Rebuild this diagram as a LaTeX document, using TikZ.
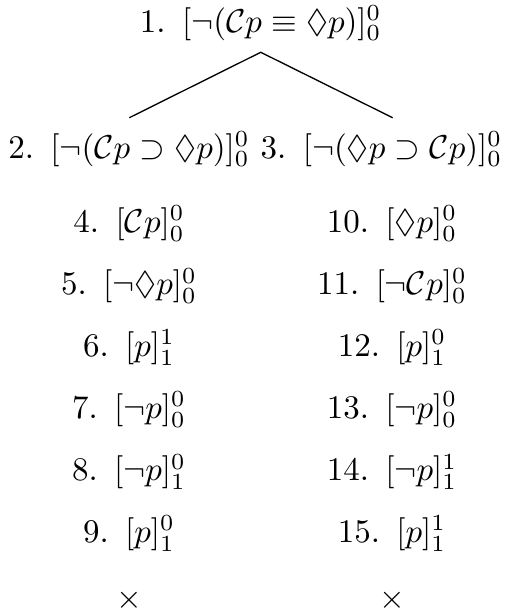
\documentclass[tikz,border=0pt]{standalone}
\usepackage{amssymb}

\begin{document}
\begin{tikzpicture}[
  fml/.style    = {anchor=base, inner sep=0pt},   % a numbered formula, set on its baseline
  branch/.style = {thin},
  closed/.style = {inner sep=0pt},                % the cross that closes a branch
]
  \useasboundingbox (0,0) rectangle (5.421,-6.561);

  % root
  \node[fml] (n1) at (2.777,-0.341) {1.\enspace$[\neg(\mathcal{C}p \equiv \Diamond p)]^0_0$};

  % fork
  \coordinate (fork) at (2.777,-0.557);
  \coordinate (lend) at (1.377,-1.254);
  \coordinate (rend) at (4.182,-1.254);
  \draw[branch] (lend) -- (fork) -- (rend);

  \node[fml] (n2) at (1.374,-1.683) {2.\enspace$[\neg(\mathcal{C}p \supset \Diamond p)]^0_0$};
  \node[fml] (n3) at (4.063,-1.683) {3.\enspace$[\neg(\Diamond p \supset \mathcal{C}p)]^0_0$};

  % left branch
  \node[fml] (n4) at (1.374,-2.481) {4.\enspace$[\mathcal{C}p]^0_0$};
  \node[fml] (n5) at (1.374,-3.142) {5.\enspace$[\neg\Diamond p]^0_0$};
  \node[fml] (n6) at (1.374,-3.802) {6.\enspace$[p]^1_1$};
  \node[fml] (n7) at (1.374,-4.462) {7.\enspace$[\neg p]^0_0$};
  \node[fml] (n8) at (1.374,-5.123) {8.\enspace$[\neg p]^0_1$};
  \node[fml] (n9) at (1.374,-5.783) {9.\enspace$[p]^0_1$};
  \node[closed] (xl) at (1.374,-6.390) {$\times$};

  % right branch
  \node[fml] (n10) at (4.175,-2.481) {10.\enspace$[\Diamond p]^0_0$};
  \node[fml] (n11) at (4.175,-3.142) {11.\enspace$[\neg\mathcal{C}p]^0_0$};
  \node[fml] (n12) at (4.175,-3.802) {12.\enspace$[p]^0_1$};
  \node[fml] (n13) at (4.175,-4.462) {13.\enspace$[\neg p]^0_0$};
  \node[fml] (n14) at (4.175,-5.123) {14.\enspace$[\neg p]^1_1$};
  \node[fml] (n15) at (4.175,-5.783) {15.\enspace$[p]^1_1$};
  \node[closed] (xr) at (4.175,-6.390) {$\times$};
\end{tikzpicture}
\end{document}
